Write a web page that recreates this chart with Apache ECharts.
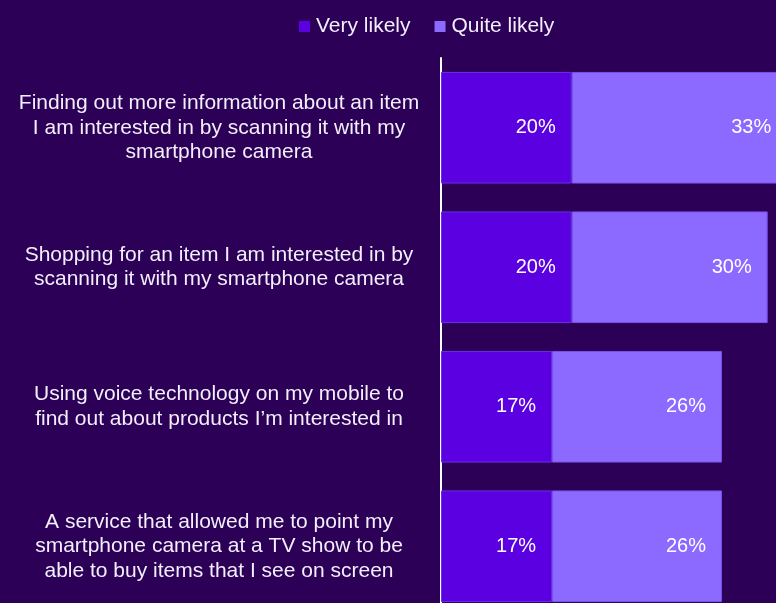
<!DOCTYPE html>
<html>
<head>
<meta charset="utf-8">
<script src="https://cdn.jsdelivr.net/npm/echarts@6/dist/echarts.min.js"></script>
<style>
  html, body { margin: 0; padding: 0; background: #2c0057; }
  #chart { width: 776px; height: 603px; }
</style>
</head>
<body>
<div id="chart"></div>
<script>
// Survey statements (top to bottom) and the share answering each option
const categories = [
  "Finding out more information about an item\nI am interested in by scanning it with my\nsmartphone camera",
  "Shopping for an item I am interested in by\nscanning it with my smartphone camera",
  "Using voice technology on my mobile to\nfind out about products I\u2019m interested in",
  "A service that allowed me to point my\nsmartphone camera at a TV show to be\nable to buy items that I see on screen"
];
const veryLikely = [20, 20, 17, 17];
const quiteLikely = [33, 30, 26, 26];
const seriesNames = ["Very likely", "Quite likely"];

const chart = echarts.init(document.getElementById("chart"));
const FONT = "Liberation Sans, Arial, sans-serif";

const labelStyle = {
  show: true,
  position: "insideRight",
  distance: 16,
  color: "#ffffff",
  fontSize: 20,
  fontFamily: FONT,
  formatter: p => p.value + "%"
};

chart.setOption({
  backgroundColor: "#2c0057",
  animation: false,
  legend: {
    top: 16,
    left: 299,
    padding: 0,
    itemWidth: 11,
    itemHeight: 11,
    itemGap: 24,
    icon: "rect",
    itemStyle: { borderWidth: 0 },
    textStyle: { color: "#f2eefa", fontSize: 21, fontFamily: FONT, padding: [0, 0, 0, 1] },
    data: seriesNames
  },
  grid: { left: 441, top: 58, width: 392, height: 558, outerBoundsMode: "none", containLabel: false },
  xAxis: {
    type: "value",
    min: 0,
    max: 60,
    show: false
  },
  yAxis: {
    type: "category",
    inverse: true,
    data: categories,
    axisLine: { show: true, lineStyle: { color: "#ffffff", width: 2 } },
    axisTick: { show: false },
    axisLabel: {
      color: "#f2eefa",
      fontSize: 21,
      fontFamily: FONT,
      lineHeight: 24.5,
      align: "center",
      margin: 222
    }
  },
  series: [
    {
      name: seriesNames[0],
      type: "bar",
      stack: "total",
      barCategoryGap: "20%",
      data: veryLikely,
      itemStyle: { color: "#5b00e0", borderColor: "#6a2ee8", borderWidth: 1 },
      label: labelStyle
    },
    {
      name: seriesNames[1],
      type: "bar",
      stack: "total",
      barCategoryGap: "20%",
      data: quiteLikely,
      itemStyle: { color: "#8c69ff", borderColor: "#7a52ee", borderWidth: 1 },
      label: labelStyle
    }
  ]
});
</script>
</body>
</html>
